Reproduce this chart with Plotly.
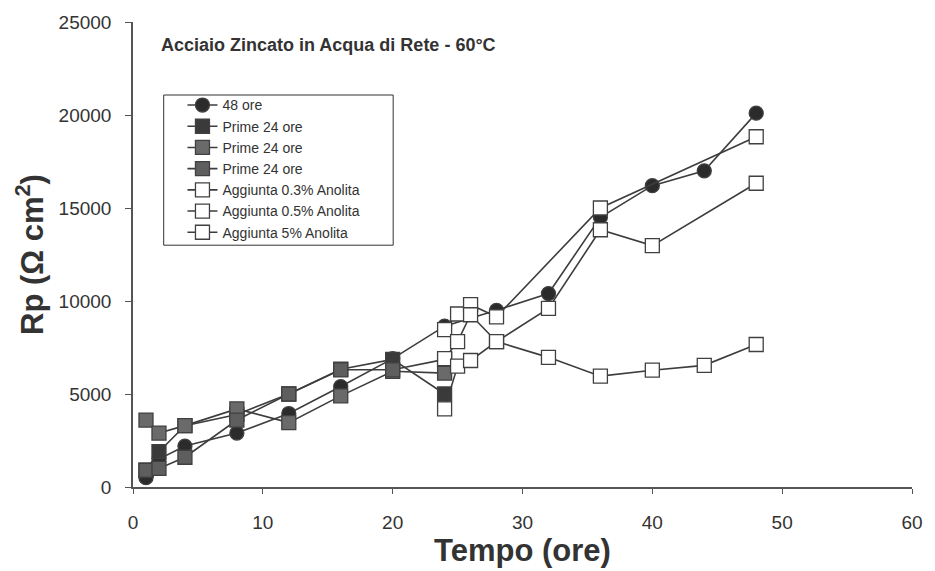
import plotly.graph_objects as go

# ---- data ----
x_48 = [1, 2, 4, 8, 12, 16, 20, 24, 28, 32, 36, 40, 44, 48]
y_48 = [500, 1500, 2200, 2900, 3950, 5400, 6900, 8650, 9500, 10400, 14500, 16200, 17000, 20100]

x_prime = [1, 2, 4, 8, 12, 16, 20, 24]
y_prime_a = [900, 1900, 3300, 3900, 5000, 6330, 6860, 5000]
y_prime_b = [3600, 2900, 3300, 4200, 3460, 4900, 6220, 6120]
y_prime_c = [900, 1000, 1600, 3600, 5000, 6300, 6300, 6860]

x_03 = [24, 25, 26, 28, 36, 48]
y_03 = [8460, 9300, 9800, 9150, 15000, 18830]

x_05 = [24, 25, 26, 28, 32, 36, 40, 48]
y_05 = [6900, 7820, 9260, 7820, 9600, 13830, 12980, 16330]

x_5 = [24, 25, 26, 28, 32, 36, 40, 44, 48]
y_5 = [4200, 6500, 6800, 7820, 6970, 5960, 6280, 6540, 7660]

names = ["48 ore", "Prime 24 ore", "Prime 24 ore", "Prime 24 ore",
         "Aggiunta 0.3% Anolita", "Aggiunta 0.5% Anolita", "Aggiunta 5% Anolita"]

x_ticks = [0, 10, 20, 30, 40, 50, 60]
y_ticks = [0, 5000, 10000, 15000, 20000, 25000]
y_tick_labels = ["0", "5000", "10000", "15000", "20000", "25000"]

LINE = "#3d3d3d"
fig = go.Figure()

def add(x, y, name, symbol, fill, size=14):
    fig.add_trace(go.Scatter(
        x=x, y=y, name=name, mode="lines+markers",
        line=dict(color=LINE, width=1.6),
        marker=dict(symbol=symbol, size=size, color=fill,
                    line=dict(color="#404040", width=1.3)),
    ))

add(x_48, y_48, names[0], "circle", "#2b2b2b")
add(x_prime, y_prime_a, names[1], "square", "#3a3a3a")
add(x_prime, y_prime_b, names[2], "square", "#6a6a6a")
add(x_prime, y_prime_c, names[3], "square", "#5e5e5e")
add(x_03, y_03, names[4], "square", "white")
add(x_05, y_05, names[5], "square", "white")
add(x_5, y_5, names[6], "square", "white")

axis_font = dict(family="Liberation Sans, Arial, sans-serif", size=19, color="#333")
fig.update_layout(
    width=935, height=571,
    margin=dict(l=133, r=15, t=17, b=84),
    paper_bgcolor="white", plot_bgcolor="white",
    font=dict(family="Liberation Sans, Arial, sans-serif", color="#333"),
    xaxis=dict(range=[0, 60], tickvals=x_ticks, ticktext=[str(v) for v in x_ticks],
               showgrid=False, zeroline=False,
               showline=True, linecolor="#555", linewidth=1.5,
               ticks="outside", ticklen=5, tickcolor="#555",
               tickfont=axis_font, ticklabelstandoff=12,
               title=dict(text="<b>Tempo (ore)</b>", font=dict(size=31, color="#333"), standoff=1)),
    yaxis=dict(range=[0, 25000], tickvals=y_ticks, ticktext=y_tick_labels,
               showgrid=False, zeroline=False,
               showline=True, linecolor="#555", linewidth=1.5,
               ticks="outside", ticklen=6, tickcolor="#555",
               tickfont=axis_font, ticklabelstandoff=10,
               title=dict(text="<b>Rp (Ω cm<sup>2</sup>)</b>", font=dict(size=31, color="#333"), standoff=6)),
    legend=dict(x=0.0635, y=0.855, xanchor="left", yanchor="top",
                bgcolor="rgba(0,0,0,0)", borderwidth=0,
                font=dict(size=14, color="#333"), tracegroupgap=0, itemwidth=30),
    showlegend=True,
)
# legend frame
fig.add_shape(type="rect", xref="paper", yref="paper",
              x0=0.0394, x1=0.334, y0=0.52, y1=0.843,
              line=dict(color="#333", width=1), fillcolor="white", layer="above")
fig.add_annotation(x=0.033, y=0.977, xref="paper", yref="paper", xanchor="left", yanchor="top",
                   text="<b>Acciaio Zincato in Acqua di Rete - 60°C</b>", showarrow=False,
                   font=dict(size=18, color="#333"))

fig.write_html("out.html")
